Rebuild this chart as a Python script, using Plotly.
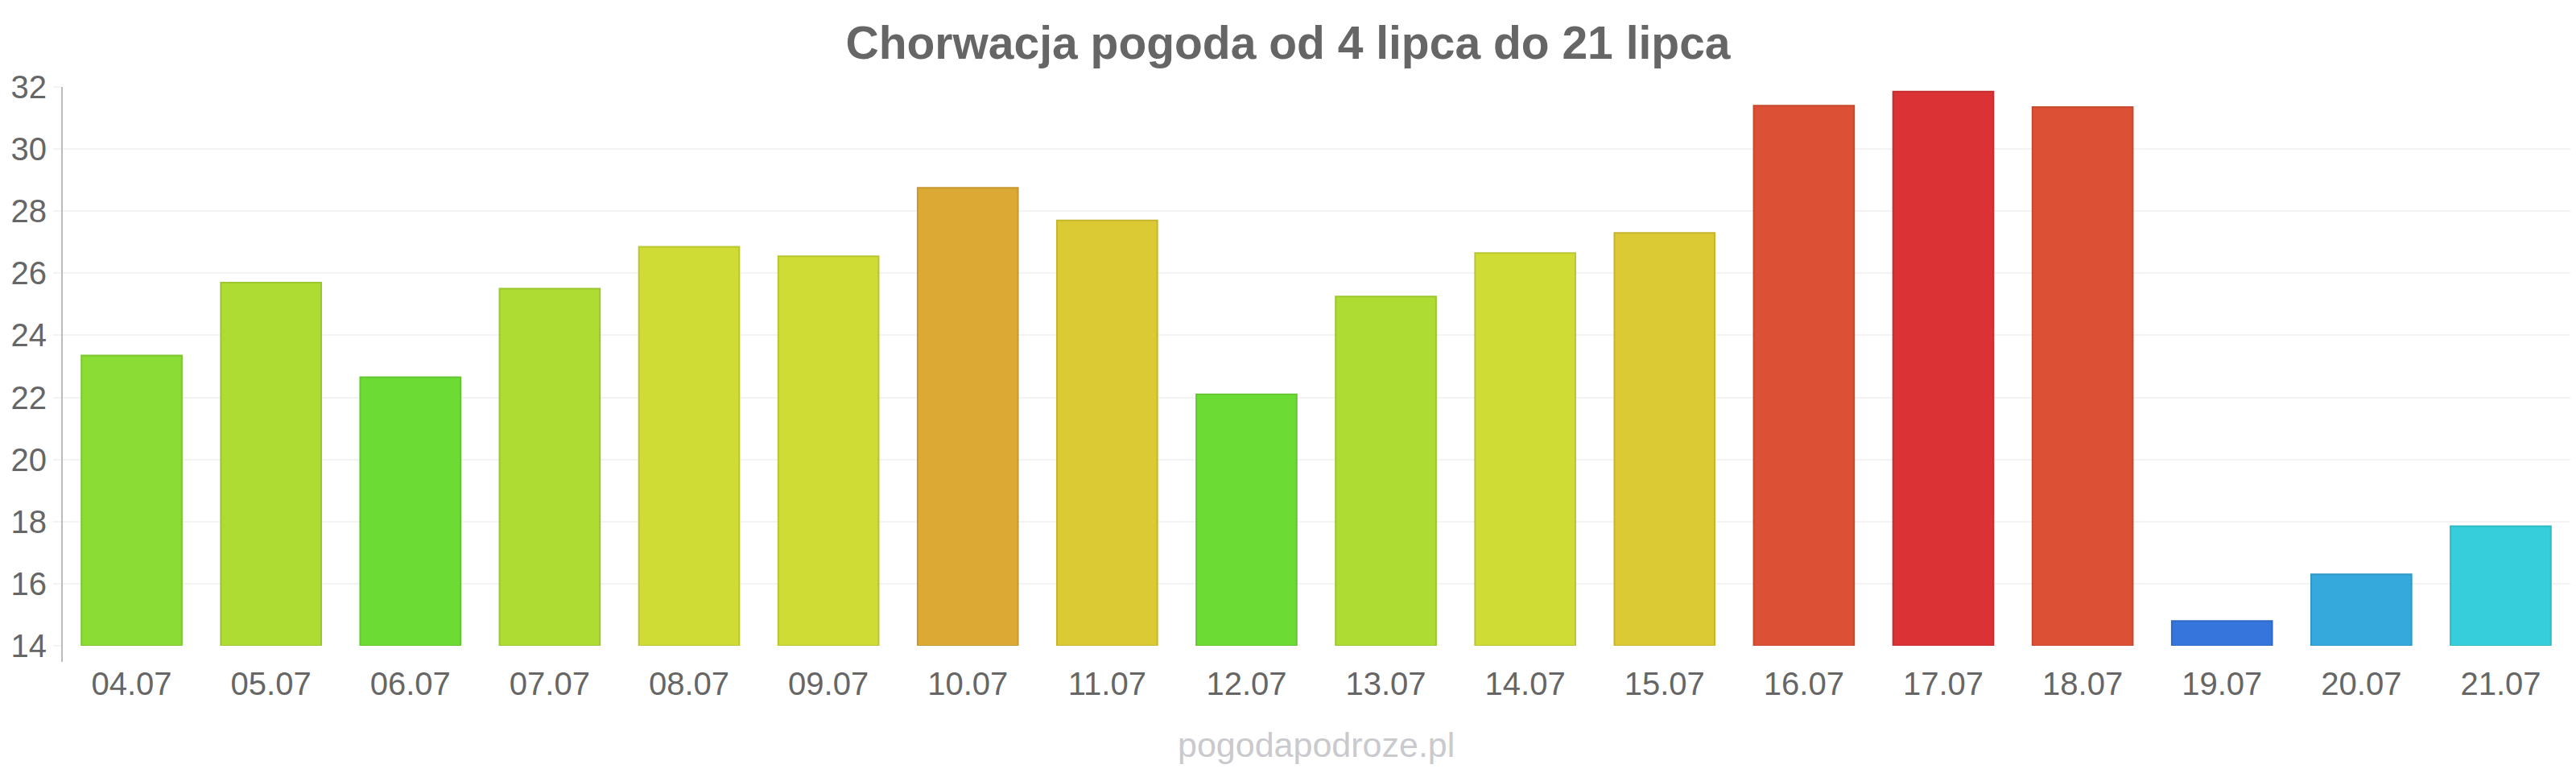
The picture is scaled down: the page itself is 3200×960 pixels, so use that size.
import plotly.graph_objects as go

dates = ["04.07", "05.07", "06.07", "07.07", "08.07", "09.07", "10.07", "11.07", "12.07",
         "13.07", "14.07", "15.07", "16.07", "17.07", "18.07", "19.07", "20.07", "21.07"]
temps = [23.35, 25.7, 22.65, 25.5, 26.85, 26.55, 28.75, 27.7, 22.1,
         25.25, 26.65, 27.3, 31.4, 31.85, 31.35, 14.8, 16.3, 17.85]
colors = ["#8BDC35", "#AEDC33", "#6CDC35", "#AEDC33", "#CFDC35", "#CFDC35", "#DCA935", "#DCCA35", "#6CDC35",
          "#AEDC33", "#CFDC35", "#DCCA35", "#DC5035", "#DB3235", "#DC5035", "#3575DC", "#35A9DC", "#35CEDA"]
yticks = [14, 16, 18, 20, 22, 24, 26, 28, 30, 32]


def darker(hexcol, f=0.9):
    h = hexcol.lstrip("#")
    r, g, b = (int(h[i:i + 2], 16) for i in (0, 2, 4))
    return "rgb(%d,%d,%d)" % (int(r * f), int(g * f), int(b * f))


FONT = "Liberation Sans, Arial, sans-serif"
W, H = 3200, 960
L, R, T, B = 77, 7, 108, 158

fig = go.Figure()
fig.add_trace(go.Bar(
    x=dates,
    y=[t - 14 for t in temps],
    base=14,
    marker=dict(color=colors, line=dict(color=[darker(c) for c in colors], width=2)),
    width=0.72,
    hoverinfo="skip",
))

fig.update_layout(
    width=W, height=H,
    margin=dict(l=L, r=R, t=T, b=B, pad=0),
    paper_bgcolor="white", plot_bgcolor="white",
    showlegend=False,
    font=dict(family=FONT, color="#666666"),
    title=dict(text="<b>Chorwacja pogoda od 4 lipca do 21 lipca</b>",
               x=0.5, xanchor="center", xref="container",
               y=1 - 53 / H, yanchor="middle", yref="container",
               font=dict(size=57, color="#666666", family=FONT)),
    xaxis=dict(
        type="category",
        showgrid=False, zeroline=False, showline=False,
        ticks="outside", ticklen=12, tickcolor="rgba(0,0,0,0)",
        tickfont=dict(size=40, color="#666666", family=FONT),
    ),
    yaxis=dict(
        range=[14, 32],
        tickvals=yticks,
        showgrid=True, gridcolor="#F3F3F3", gridwidth=2,
        zeroline=False,
        showline=False,
        ticks="outside", ticklen=10, tickcolor="#F3F3F3", tickwidth=2,
        tickfont=dict(size=40, color="#666666", family=FONT),
    ),
    bargap=0.28,
)

# y-axis line extending slightly below the plot area
plot_h = H - T - B
fig.add_shape(type="line", xref="paper", yref="paper",
              x0=0, x1=0, y0=-20 / plot_h, y1=1,
              line=dict(color="#BBBBBB", width=2))

fig.add_annotation(text="pogodapodroze.pl", xref="paper", yref="paper",
                   x=0.5, y=-(925 - (H - B)) / plot_h,
                   xanchor="center", yanchor="middle", showarrow=False,
                   font=dict(size=43, color="#CACACE", family=FONT))

fig.write_html("out.html")
